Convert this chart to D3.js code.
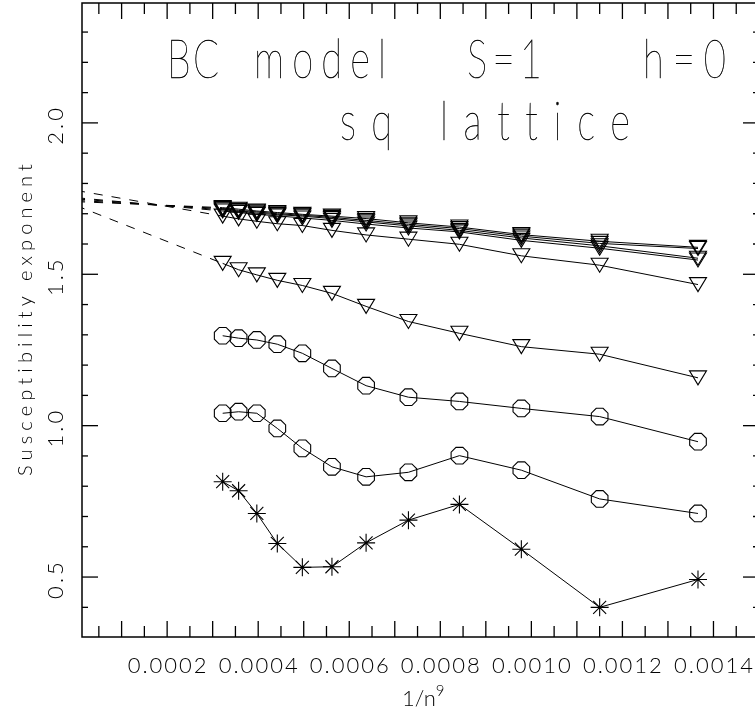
<!DOCTYPE html>
<html>
<head>
<meta charset="utf-8">
<script src="https://cdn.jsdelivr.net/npm/d3@7"></script>
<style>
  body { margin: 0; background: #fff; }
  svg { display: block; }
  text { font-variant-ligatures: none; }
  .texts { opacity: 0.999; }
  .lbl { font-family: Lato, "DejaVu Sans", sans-serif; font-weight: 300; fill: #000; }
  .title { font-family: Lato, "DejaVu Sans", sans-serif; font-weight: 200; fill: #000; stroke: #000; stroke-width: 0.5; }
</style>
</head>
<body>
<svg id="chart" width="755" height="714"></svg>
<script>
// x values (1/n^9), shared by every series
const invN = [0.000322, 0.000357, 0.000397, 0.000442, 0.000497, 0.000562,
              0.000637, 0.000730, 0.000842, 0.000978, 0.001150, 0.001366];

// triangle series, top of the bundle first
const tri6 = [1.720, 1.715, 1.709, 1.704, 1.698, 1.692, 1.684, 1.670, 1.656, 1.631, 1.609, 1.589];
const tri5 = [1.717, 1.711, 1.706, 1.700, 1.695, 1.688, 1.678, 1.665, 1.651, 1.626, 1.602, 1.585];
const tri4 = [1.713, 1.708, 1.702, 1.697, 1.692, 1.684, 1.673, 1.660, 1.645, 1.620, 1.594, 1.553];
const tri3 = [1.709, 1.704, 1.698, 1.693, 1.686, 1.678, 1.666, 1.653, 1.640, 1.612, 1.586, 1.547];
const tri2 = [1.692, 1.683, 1.675, 1.667, 1.661, 1.645, 1.630, 1.616, 1.599, 1.561, 1.530, 1.466];
const tri1 = [1.536, 1.515, 1.498, 1.480, 1.463, 1.437, 1.394, 1.344, 1.305, 1.261, 1.236, 1.158];
// octagon series
const oct2 = [1.297, 1.289, 1.283, 1.269, 1.239, 1.189, 1.132, 1.094, 1.080, 1.057, 1.030, 0.947];
const oct1 = [1.041, 1.046, 1.041, 0.991, 0.925, 0.864, 0.831, 0.846, 0.901, 0.853, 0.758, 0.710];
// asterisk series
const star1 = [0.815, 0.785, 0.710, 0.611, 0.532, 0.534, 0.613, 0.688, 0.740, 0.592, 0.400, 0.492];

// extrapolated values at 1/n^9 = 0 (dashed lines), for tri6..tri1
const extrapTri = [1.740, 1.744, 1.749, 1.753, 1.777, 1.727];

const xMajor = d3.range(1, 15).map(d => d * 0.0001);
const xMinor = d3.range(0, 15).map(d => d * 0.0001 + 0.00005);
const xLabels = [0.0002, 0.0004, 0.0006, 0.0008, 0.0010, 0.0012, 0.0014];
const yMajor = [0.5, 1.0, 1.5, 2.0];
const yMinor = d3.range(4, 24).map(d => d / 10).filter(d => !yMajor.includes(d));

const svg = d3.select("#chart");
const pLeft = 82, pRight = 759, pTop = 3, pBottom = 637;

const x = d3.scaleLinear().domain([0.000013, 0.0015]).range([pLeft, pRight]);
const y = d3.scaleLinear().domain([0.302, 2.396]).range([pBottom, pTop]);

svg.append("defs").append("clipPath").attr("id", "plotclip")
    .append("rect").attr("x", pLeft).attr("y", pTop)
    .attr("width", pRight - pLeft).attr("height", pBottom - pTop);

// frame
svg.append("rect")
    .attr("x", pLeft).attr("y", pTop)
    .attr("width", pRight - pLeft).attr("height", pBottom - pTop)
    .attr("fill", "none").attr("stroke", "#000").attr("stroke-width", 1.5);

// ticks on all four sides
function xTicks(vals, len) {
    svg.append("g").selectAll("line").data(vals).enter().append("line")
        .attr("x1", d => x(d)).attr("x2", d => x(d))
        .attr("y1", pBottom).attr("y2", pBottom - len)
        .attr("stroke", "#000").attr("stroke-width", 1.3);
    svg.append("g").selectAll("line").data(vals).enter().append("line")
        .attr("x1", d => x(d)).attr("x2", d => x(d))
        .attr("y1", pTop).attr("y2", pTop + len)
        .attr("stroke", "#000").attr("stroke-width", 1.3);
}
function yTicks(vals, len) {
    svg.append("g").selectAll("line").data(vals).enter().append("line")
        .attr("x1", pLeft).attr("x2", pLeft + len)
        .attr("y1", d => y(d)).attr("y2", d => y(d))
        .attr("stroke", "#000").attr("stroke-width", 1.3);
    svg.append("g").selectAll("line").data(vals).enter().append("line")
        .attr("x1", pRight).attr("x2", pRight - len)
        .attr("y1", d => y(d)).attr("y2", d => y(d))
        .attr("stroke", "#000").attr("stroke-width", 1.3);
}
xTicks(xMajor, 16);
xTicks(xMinor, 11);
yTicks(yMajor, 16);
yTicks(yMinor, 6);

// all text goes in one layer (grayscale antialiasing)
const texts = svg.append("g").attr("class", "texts");

// tick labels
texts.append("g").selectAll("text").data(xLabels).enter().append("text")
    .attr("class", "lbl")
    .attr("x", d => x(d) + 1).attr("y", 673)
    .attr("text-anchor", "middle")
    .attr("font-size", 22)
    .attr("letter-spacing", 2)
    .text(d => d.toFixed(4));

texts.append("g").selectAll("text").data(yMajor).enter().append("text")
    .attr("class", "lbl")
    .attr("transform", d => "translate(63," + (y(d) + 2) + ") rotate(-90)")
    .attr("text-anchor", "middle")
    .attr("font-size", 22)
    .attr("letter-spacing", 3)
    .text(d => d.toFixed(1));

// axis titles
texts.append("text")
    .attr("class", "lbl")
    .attr("transform", "translate(32,320) rotate(-90)")
    .attr("text-anchor", "middle")
    .attr("font-size", 20)
    .attr("textLength", 312).attr("lengthAdjust", "spacing")
    .text("Susceptibility exponent");

let xt = texts.append("text").attr("class", "lbl")
    .attr("x", 402).attr("y", 706).attr("font-size", 22);
xt.append("tspan").text("1/n");
xt.append("tspan").attr("dy", -10).attr("font-size", 15).text("9");

// title words, glyphs narrowed to the stroke-font look
const squeeze = 0.72;
const titleWords = [
    {t: "BC", x: 167, len: 52, y: 78},
    {t: "model", x: 254, len: 132, y: 78},
    {t: "S=1", x: 467, len: 75, y: 78},
    {t: "h=0", x: 643, len: 83, y: 78},
    {t: "sq", x: 340, len: 52, y: 140},
    {t: "lattice", x: 440, len: 190, y: 140}
];
texts.append("g").selectAll("text").data(titleWords).enter().append("text")
    .attr("class", "title")
    .attr("transform", d => "translate(" + d.x + "," + d.y + ") scale(" + squeeze + ",1)")
    .attr("font-size", 53)
    .attr("textLength", d => d.len / squeeze).attr("lengthAdjust", "spacing")
    .text(d => d.t);

// series
const series = [
    {vals: tri6, mark: "tri", v0: extrapTri[0]},
    {vals: tri5, mark: "tri", v0: extrapTri[1]},
    {vals: tri4, mark: "tri", v0: extrapTri[2]},
    {vals: tri3, mark: "tri", v0: extrapTri[3]},
    {vals: tri2, mark: "tri", v0: extrapTri[4]},
    {vals: tri1, mark: "tri", v0: extrapTri[5]},
    {vals: oct2, mark: "oct"},
    {vals: oct1, mark: "oct"},
    {vals: star1, mark: "star"}
];

const line = d3.line().x(d => x(d[0])).y(d => y(d[1]));
const plot = svg.append("g").attr("clip-path", "url(#plotclip)");

series.forEach(s => {
    const pts = invN.map((v, i) => [v, s.vals[i]]);
    plot.append("path")
        .attr("d", line(pts))
        .attr("fill", "none").attr("stroke", "#000").attr("stroke-width", 1);

    if (s.v0 !== undefined) {
        plot.append("path")
            .attr("d", line([[0, s.v0], pts[0]]))
            .attr("fill", "none").attr("stroke", "#000").attr("stroke-width", 1)
            .attr("stroke-dasharray", "9,9");
    }

    const g = plot.append("g").selectAll("g").data(pts).enter().append("g")
        .attr("transform", d => "translate(" + x(d[0]) + "," + y(d[1]) + ")");

    if (s.mark === "tri") {
        g.append("path").attr("d", "M-8.5,-7L8.5,-7L0,7Z")
            .attr("fill", "none").attr("stroke", "#000").attr("stroke-width", 1.1);
    } else if (s.mark === "oct") {
        const oct = d3.range(8).map(k => {
            const a = Math.PI / 8 + k * Math.PI / 4;
            return [9 * Math.cos(a), 9 * Math.sin(a)];
        });
        g.append("path").attr("d", "M" + oct.join("L") + "Z")
            .attr("fill", "none").attr("stroke", "#000").attr("stroke-width", 1.1);
    } else {
        g.append("path")
            .attr("d", "M-9,0L9,0M0,-9L0,9M-6.5,-6.5L6.5,6.5M-6.5,6.5L6.5,-6.5")
            .attr("fill", "none").attr("stroke", "#000").attr("stroke-width", 1.1);
    }
});
</script>
</body>
</html>
